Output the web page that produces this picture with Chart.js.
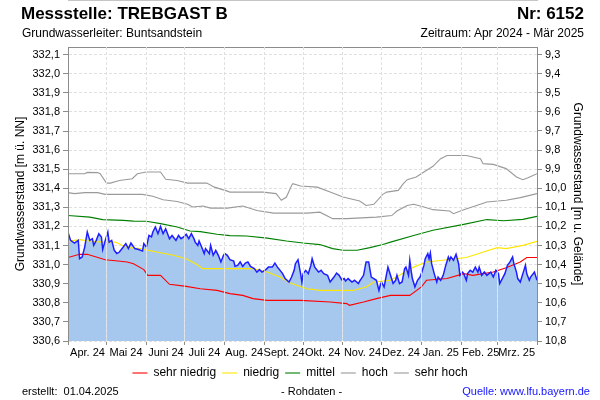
<!DOCTYPE html>
<html lang="de">
<head>
<meta charset="UTF-8">
<title>Messstelle TREBGAST B</title>
<script src="https://cdn.jsdelivr.net/npm/chart.js"></script>
<style>
  body { margin: 0; background: #fff; }
  #rahmen { position: relative; width: 600px; height: 400px; font-family: "Liberation Sans", Arial, sans-serif; color: #000; }
  #rahmen canvas { position: absolute; left: 0; top: 0; }
  .txt { position: absolute; white-space: nowrap; line-height: 1; }
  .gross { font-size: 17px; font-weight: bold; top: 5px; }
  .klein { font-size: 12px; top: 27px; }
  .fuss { font-size: 11px; top: 386px; }
</style>
</head>
<body>
<div id="rahmen">
  <canvas id="diagramm" width="600" height="400"></canvas>
  <div class="txt gross" style="left:21px">Messstelle: TREBGAST B</div>
  <div class="txt gross" style="right:16px">Nr: 6152</div>
  <div class="txt klein" style="left:22px">Grundwasserleiter: Buntsandstein</div>
  <div class="txt klein" style="right:16px">Zeitraum: Apr 2024 - Mär 2025</div>
  <div class="txt fuss" style="left:22px">erstellt:&nbsp; 01.04.2025</div>
  <div class="txt fuss" style="left:281px">- Rohdaten -</div>
  <div class="txt fuss" style="right:10px; color:#1515ff">Quelle: www.lfu.bayern.de</div>
</div>

<script>
// Tage ab 01.04.2024
const monatsAnfang = [0, 30, 61, 91, 122, 153, 183, 214, 244, 275, 306, 334, 365];
const monatsNamen = ['Apr. 24', 'Mai 24', 'Juni 24', 'Juli 24', 'Aug. 24', 'Sept. 24',
                     'Okt. 24', 'Nov. 24', 'Dez. 24', 'Jan. 25', 'Feb. 25', 'Mrz. 25'];
const linksTicks = [330.6, 330.7, 330.8, 330.9, 331.0, 331.1, 331.2, 331.3, 331.4, 331.5,
                    331.6, 331.7, 331.8, 331.9, 332.0, 332.1];
const rechtsTicks = [9.3, 9.4, 9.5, 9.6, 9.7, 9.8, 9.9, 10.0, 10.1, 10.2, 10.3, 10.4,
                     10.5, 10.6, 10.7, 10.8];

const rohTage = [
  0, 2, 5, 8, 9, 11, 13, 15, 17, 19,
  20, 22, 24, 26, 27, 29, 31, 32, 34, 36,
  38, 40, 43, 45, 47, 49, 52, 55, 58, 59,
  61, 63, 65, 66, 68, 70, 72, 74, 76, 78,
  79, 81, 84, 86, 88, 90, 92, 94, 96, 98,
  99, 101, 102, 104, 106, 107, 110, 111, 113, 115,
  117, 119, 121, 122, 124, 126, 129, 130, 132, 134,
  136, 138, 140, 142, 145, 147, 149, 151, 154, 156,
  159, 161, 163, 164, 167, 169, 172, 174, 176, 177,
  179, 181, 182, 183, 185, 187, 189, 190, 192, 195,
  197, 199, 202, 204, 207, 209, 211, 213, 215, 216,
  218, 221, 223, 226, 227, 230, 232, 234, 236, 238,
  240, 242, 243, 244, 246, 248, 249, 251, 253, 255,
  256, 258, 260, 262, 263, 265, 266, 267, 268, 270,
  272, 274, 275, 277, 278, 280, 281, 282, 283, 285,
  287, 288, 290, 292, 294, 296, 297, 298, 300, 302,
  304, 305, 307, 308, 310, 311, 313, 315, 317, 319,
  320, 322, 324, 326, 329, 331, 333, 335, 336, 338,
  340, 342, 344, 346, 347, 349, 350, 352, 354, 356,
  357, 359, 360, 363, 365
];
const rohWerte = [
  331.170, 331.127, 331.113, 331.127, 331.031, 331.040, 331.092, 331.171, 331.127, 331.136,
  331.101, 331.127, 331.162, 331.145, 331.079, 331.127, 331.171, 331.118, 331.127, 331.075,
  331.058, 331.066, 331.092, 331.110, 331.084, 331.113, 331.084, 331.079, 331.071, 331.110,
  331.092, 331.153, 331.145, 331.171, 331.197, 331.162, 331.200, 331.162, 331.188, 331.153,
  331.136, 331.153, 331.127, 331.153, 331.136, 331.145, 331.159, 331.136, 331.162, 331.136,
  331.118, 331.101, 331.124, 331.092, 331.058, 331.084, 331.058, 331.101, 331.049, 331.075,
  331.049, 331.014, 331.049, 331.058, 331.049, 331.026, 331.019, 330.991, 330.996, 331.014,
  330.991, 331.008, 331.014, 330.991, 330.979, 330.961, 330.974, 330.961, 330.974, 330.987,
  330.987, 331.008, 330.987, 330.979, 330.953, 330.927, 330.909, 330.935, 330.970, 331.005,
  331.026, 330.953, 330.909, 330.953, 330.970, 330.953, 330.996, 331.031, 330.987, 330.961,
  330.970, 330.953, 330.944, 330.909, 330.935, 330.956, 330.944, 330.921, 330.927, 330.914,
  330.927, 330.909, 330.918, 330.901, 330.914, 330.944, 331.014, 331.014, 330.935, 330.927,
  330.918, 330.865, 330.892, 330.909, 330.883, 330.953, 330.987, 330.944, 330.901, 330.918,
  330.944, 330.901, 330.909, 330.979, 330.987, 330.944, 331.023, 330.970, 330.927, 330.883,
  330.918, 330.935, 330.953, 330.996, 331.031, 331.058, 331.031, 331.061, 331.005, 330.953,
  330.909, 330.935, 330.918, 330.944, 330.996, 331.040, 331.023, 331.040, 331.023, 331.054,
  331.005, 330.944, 330.961, 330.953, 330.918, 330.953, 330.970, 330.961, 330.987, 330.961,
  330.987, 330.944, 330.961, 330.944, 330.961, 330.935, 330.970, 330.953, 330.901, 330.927,
  330.953, 330.996, 331.014, 331.040, 331.005, 330.961, 330.927, 330.909, 330.953, 330.996,
  330.953, 330.918, 330.935, 330.961, 330.918
];

const sehrNiedrigTage = [0, 9, 15, 22, 29, 39, 46, 51, 59, 62, 72, 79, 92, 103, 116, 126, 136, 144, 155,
  181, 204, 217, 219, 230, 240, 251, 266, 275, 279, 295, 308, 315, 331, 341, 352, 357, 365];
const sehrNiedrigWerte = [331.037, 331.054, 331.054, 331.040, 331.026, 331.019, 331.014, 331.005, 330.974,
  330.944, 330.944, 330.897, 330.886, 330.874, 330.865, 330.848, 330.839, 330.822, 330.813, 330.813,
  330.804, 330.796, 330.787, 330.804, 330.822, 330.839, 330.839, 330.883, 330.918, 330.927, 330.953,
  330.944, 330.961, 330.984, 331.014, 331.037, 331.037];

const niedrigTage = [0, 9, 17, 27, 37, 42, 48, 56, 69, 82, 92, 100, 105, 126, 144, 155, 165, 173, 186,
  196, 222, 232, 238, 251, 258, 269, 279, 295, 310, 321, 334, 341, 354, 365];
const niedrigWerte = [331.122, 331.131, 331.124, 331.118, 331.118, 331.101, 331.089, 331.084, 331.066,
  331.049, 331.031, 331.002, 330.979, 330.979, 330.979, 330.961, 330.935, 330.904, 330.874, 330.865,
  330.865, 330.883, 330.909, 330.918, 330.944, 330.987, 331.014, 331.026, 331.037, 331.061, 331.089,
  331.084, 331.101, 331.122];

const mittelTage = [0, 17, 27, 43, 51, 61, 72, 85, 95, 103, 116, 126, 139, 155, 170, 183, 196, 206, 214,
  225, 235, 245, 251, 269, 284, 308, 326, 339, 354, 365];
const mittelWerte = [331.257, 331.249, 331.236, 331.232, 331.228, 331.227, 331.215, 331.197, 331.176,
  331.173, 331.159, 331.152, 331.150, 331.139, 331.124, 331.113, 331.105, 331.084, 331.075, 331.075,
  331.089, 331.105, 331.118, 331.153, 331.180, 331.211, 331.236, 331.230, 331.237, 331.253];

const hochTage = [0, 5, 13, 23, 29, 58, 66, 74, 85, 93, 97, 105, 111, 124, 136, 147, 160, 186, 196, 206,
  217, 232, 240, 252, 256, 264, 269, 277, 284, 297, 300, 308, 318, 326, 341, 352, 365];
const hochWerte = [331.377, 331.372, 331.377, 331.377, 331.368, 331.368, 331.358, 331.340, 331.331,
  331.316, 331.302, 331.307, 331.296, 331.296, 331.307, 331.284, 331.270, 331.270, 331.275, 331.241,
  331.241, 331.246, 331.249, 331.257, 331.281, 331.310, 331.316, 331.302, 331.288, 331.281, 331.267,
  331.288, 331.310, 331.328, 331.337, 331.351, 331.372];

const sehrHochTage = [0, 13, 15, 23, 25, 30, 33, 40, 50, 54, 61, 72, 76, 85, 93, 108, 114, 124, 126, 152,
  162, 166, 170, 174, 175, 181, 194, 204, 214, 227, 232, 238, 245, 248, 257, 261, 264, 271, 277, 284,
  290, 295, 310, 321, 323, 331, 341, 349, 354, 358, 365];
const sehrHochWerte = [331.476, 331.476, 331.483, 331.482, 331.476, 331.427, 331.427, 331.441, 331.450,
  331.476, 331.485, 331.485, 331.447, 331.441, 331.427, 331.427, 331.406, 331.385, 331.380, 331.380,
  331.372, 331.337, 331.354, 331.415, 331.424, 331.412, 331.406, 331.380, 331.354, 331.333, 331.310,
  331.316, 331.368, 331.380, 331.389, 331.424, 331.445, 331.459, 331.485, 331.515, 331.555, 331.572,
  331.572, 331.555, 331.529, 331.525, 331.503, 331.459, 331.445, 331.455, 331.476];

function punkte(tage, werte) {
  return tage.map((t, i) => ({ x: t, y: werte[i] }));
}
function komma(v) {
  return v.toFixed(1).replace('.', ',');
}

const achsenGrau = '#8c8c8c';
const gitterGrau = '#e0e0e0';
const randLinie = (c) => c.index === 0 || c.index === monatsAnfang.length - 1;

Chart.defaults.font.family = "'Liberation Sans', Arial, sans-serif";
Chart.defaults.color = '#000';

new Chart(document.getElementById('diagramm'), {
  type: 'line',
  data: {
    datasets: [
      { label: 'Rohdaten', data: punkte(rohTage, rohWerte), borderColor: '#1e1eff', borderWidth: 1.5,
        backgroundColor: '#a6c8ef', fill: 'start' },
      { label: 'sehr niedrig', data: punkte(sehrNiedrigTage, sehrNiedrigWerte), borderColor: '#ff0000', borderWidth: 1.1, fill: false },
      { label: 'niedrig', data: punkte(niedrigTage, niedrigWerte), borderColor: '#ffe600', borderWidth: 1.1, fill: false },
      { label: 'mittel', data: punkte(mittelTage, mittelWerte), borderColor: '#008000', borderWidth: 1.1, fill: false },
      { label: 'hoch', data: punkte(hochTage, hochWerte), borderColor: '#9a9a9a', borderWidth: 1.1, fill: false },
      { label: 'sehr hoch', data: punkte(sehrHochTage, sehrHochWerte), borderColor: '#9a9a9a', borderWidth: 1.1, fill: false }
    ]
  },
  options: {
    responsive: false,
    animation: false,
    elements: { point: { radius: 0 }, line: { tension: 0 } },
    layout: { padding: { top: 47, bottom: 11, left: 0, right: 0 } },
    plugins: {
      filler: { drawTime: 'beforeDatasetsDraw' },
      tooltip: { enabled: false },
      legend: {
        position: 'bottom',
        labels: {
          filter: (item) => item.datasetIndex > 0,
          usePointStyle: true,
          pointStyle: 'line',
          pointStyleWidth: 15,
          padding: 6,
          color: '#000',
          font: { size: 12 }
        }
      }
    },
    scales: {
      x: {
        type: 'linear', position: 'bottom', min: 0, max: 365,
        afterBuildTicks: (s) => { s.ticks = monatsAnfang.map(v => ({ value: v })); },
        afterFit: (s) => { s.height = 20; },
        grid: { color: (c) => randLinie(c) ? 'rgba(0,0,0,0)' : gitterGrau, tickColor: achsenGrau, tickLength: 4, z: 2 },
        border: { color: achsenGrau, dash: [3, 2], z: 1 },
        ticks: { autoSkip: false, maxRotation: 0, minRotation: 0, padding: 1, labelOffset: 19.5,
                 font: { size: 11 }, callback: (v, i) => monatsNamen[i] || '' }
      },
      xOben: {
        type: 'linear', position: 'top', min: 0, max: 365,
        afterBuildTicks: (s) => { s.ticks = monatsAnfang.map(v => ({ value: v })); },
        afterFit: (s) => { s.height = 0; },
        ticks: { display: false },
        grid: { color: (c) => randLinie(c) ? 'rgba(0,0,0,0)' : 'rgba(255,255,255,0.6)', drawTicks: false, z: 1 },
        border: { color: achsenGrau, z: 1 }
      },
      y: {
        type: 'linear', position: 'left', min: 330.6, max: 332.14,
        afterBuildTicks: (s) => { s.ticks = linksTicks.map(v => ({ value: v })); },
        afterFit: (s) => { s.width = 68; },
        grid: { color: gitterGrau, tickColor: achsenGrau, tickLength: 5 },
        border: { color: achsenGrau, dash: [3, 2], z: 1 },
        ticks: { padding: 3, font: { size: 11 }, callback: (v) => komma(v) },
        title: { display: true, text: 'Grundwasserstand [m ü. NN]', font: { size: 12 }, padding: { top: 13, bottom: 0 } }
      },
      y2: {
        type: 'linear', position: 'right', reverse: true, min: 9.26, max: 10.8,
        afterBuildTicks: (s) => { s.ticks = rechtsTicks.map(v => ({ value: v })); },
        afterFit: (s) => { s.width = 63; },
        grid: { drawOnChartArea: false, color: achsenGrau, tickColor: achsenGrau, tickLength: 5 },
        border: { color: achsenGrau, z: 1 },
        ticks: { padding: 3, font: { size: 11 }, callback: (v) => komma(v) },
        title: { display: true, text: 'Grundwasserstand [m u. Gelände]', font: { size: 12 }, padding: { top: 15, bottom: 0 } }
      }
    }
  }
});
</script>
</body>
</html>
